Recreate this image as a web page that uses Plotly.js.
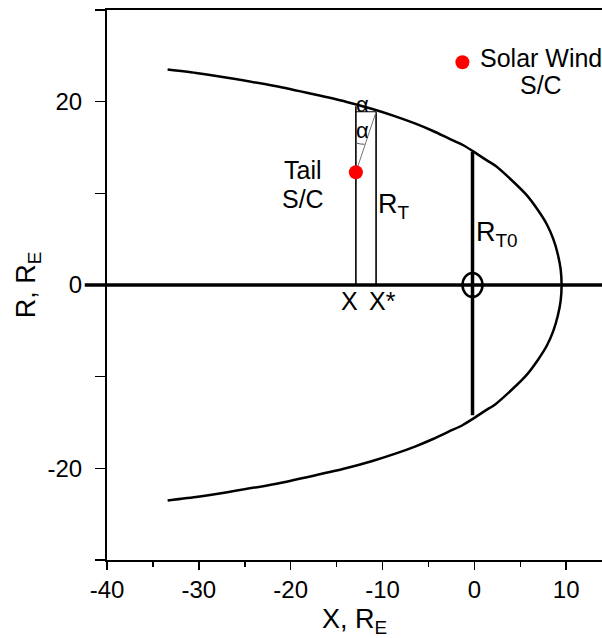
<!DOCTYPE html>
<html>
<head>
<meta charset="utf-8">
<script src="https://cdn.plot.ly/plotly-3.0.1.min.js"></script>
<style>
  html, body { margin: 0; padding: 0; background: #fff; }
  #plot { width: 602px; height: 638px; }
</style>
</head>
<body>
<div id="plot"></div>
<script>
// Magnetopause boundary in the X–R plane (R_E), traced from the tail flank
// (upper branch) round the nose and back along the lower branch.
const boundaryX = [-33.4, -30.1, -26.9, -21.7, -17.5, -14.0, -11.1, -8.6, -6.4, -4.5, -2.8, -1.3, 0.0,
                   1.2, 2.3, 4.1, 5.7, 6.9, 7.9, 8.6, 9.1, 9.4, 9.5,
                   9.4, 9.1, 8.6, 7.9, 6.9, 5.7, 4.1, 2.3, 1.2, 0.0,
                   -1.3, -2.8, -4.5, -6.4, -8.6, -11.1, -14.0, -17.5, -21.7, -26.9, -30.1, -33.4];
const boundaryR = [23.5, 23.1, 22.6, 21.7, 20.8, 20.0, 19.2, 18.4, 17.6, 16.8, 16.0, 15.3, 14.5,
                   13.7, 13.0, 11.4, 9.8, 8.2, 6.6, 5.0, 3.3, 1.7, 0.0,
                   -1.7, -3.3, -5.0, -6.6, -8.2, -9.8, -11.4, -13.0, -13.7, -14.5,
                   -15.3, -16.0, -16.8, -17.6, -18.4, -19.2, -20.0, -20.8, -21.7, -22.6, -23.1, -23.5];

// Spacecraft positions
const tailSC = { x: [-12.9], r: [12.3] };
const solarWindSC = { x: [-1.3], r: [24.3] };

// Construction lines: X (tail S/C), X* and the terminator radius R_T0
const lineX = { x: [-12.9, -12.9], r: [0, 19.5] };
const lineXstar = { x: [-10.7, -10.7], r: [0, 18.9] };
const capLine = { x: [-12.9, -10.7], r: [18.9, 18.9] };
const slantLine = { x: [-12.9, -10.7], r: [12.3, 18.9] };
const lineRT0 = { x: [-0.2, -0.2], r: [-14.2, 14.5] };

// Axis ticks
const xTickVals = [-40, -30, -20, -10, 0, 10];
const xTickText = ['-40', '-30', '-20', '-10', '0', '10'];
const yTickVals = [-20, 0, 20];
const yTickText = ['-20', '0', '20'];

const FONT = 'Liberation Sans, Arial, Helvetica, sans-serif';

const traces = [
  { x: boundaryX, y: boundaryR, mode: 'lines', line: { color: '#000', width: 2.5, shape: 'spline', smoothing: 0.6 }, hoverinfo: 'skip' },
  { x: lineX.x, y: lineX.r, mode: 'lines', line: { color: '#000', width: 1.6 }, hoverinfo: 'skip' },
  { x: lineXstar.x, y: lineXstar.r, mode: 'lines', line: { color: '#000', width: 1.6 }, hoverinfo: 'skip' },
  { x: capLine.x, y: capLine.r, mode: 'lines', line: { color: '#000', width: 1 }, hoverinfo: 'skip' },
  { x: slantLine.x, y: slantLine.r, mode: 'lines', line: { color: '#777', width: 1 }, hoverinfo: 'skip' },
  { x: lineRT0.x, y: lineRT0.r, mode: 'lines', line: { color: '#000', width: 3.5 }, hoverinfo: 'skip' },
  { x: tailSC.x, y: tailSC.r, mode: 'markers', marker: { color: '#ff0000', size: 14 }, hoverinfo: 'skip' },
  { x: solarWindSC.x, y: solarWindSC.r, mode: 'markers', marker: { color: '#ff0000', size: 14 }, hoverinfo: 'skip' }
];

const ann = (x, y, text, size, xanchor) => ({
  x, y, xref: 'x', yref: 'y', text, showarrow: false,
  xanchor: xanchor || 'center', yanchor: 'middle',
  font: { family: FONT, size: size || 24, color: '#000' }
});

const layout = {
  width: 602, height: 638,
  margin: { l: 107, r: 0, t: 10, b: 78 },
  paper_bgcolor: '#fff', plot_bgcolor: '#fff',
  showlegend: false,
  font: { family: FONT, size: 24, color: '#000' },
  xaxis: {
    range: [-40, 13.9], showgrid: false, zeroline: false,
    showline: true, linecolor: '#000', linewidth: 2, mirror: true,
    ticks: 'outside', ticklen: 8, tickwidth: 1.5, tickcolor: '#000',
    tickvals: xTickVals, ticktext: xTickText, ticklabelstandoff: -1,
    minor: { dtick: 5, tick0: 0, ticks: 'outside', ticklen: 5, tickwidth: 1.5, tickcolor: '#000', showgrid: false },
    tickfont: { family: FONT, size: 24 },
    title: { text: 'X, R<sub>E</sub>', font: { family: FONT, size: 27 }, standoff: 10 }
  },
  yaxis: {
    range: [-30, 30], showgrid: false, zeroline: false,
    showline: true, linecolor: '#000', linewidth: 2,
    ticks: 'outside', ticklen: 10, tickwidth: 1.5, tickcolor: '#000',
    tickvals: yTickVals, ticktext: yTickText, ticklabelstandoff: 8,
    minor: { dtick: 10, tick0: 0, ticks: 'outside', ticklen: 10, tickwidth: 1.5, tickcolor: '#000', showgrid: false },
    tickfont: { family: FONT, size: 24 },
    title: { text: 'R, R<sub>E</sub>', font: { family: FONT, size: 27 }, standoff: 4 }
  },
  shapes: [
    // Sun–Earth line, drawn across the left axis
    { type: 'line', xref: 'paper', yref: 'y', x0: -0.045, x1: 1, y0: 0, y1: 0, line: { color: '#000', width: 3.5 } },
    // Earth marker at the origin
    { type: 'circle', xref: 'x', yref: 'y', xsizemode: 'pixel', ysizemode: 'pixel', xanchor: -0.2, yanchor: 0,
      x0: -10, x1: 10, y0: -12, y1: 12, line: { color: '#000', width: 2.5 } },
    // angle mark between the X line and the slant line
    { type: 'path', xref: 'x', yref: 'y', path: 'M -12.9 15.5 Q -12.45 15.35 -11.95 15.35', line: { color: '#555', width: 1 } }
  ],
  annotations: [
    ann(7.3, 24.8, 'Solar Wind', 25),
    ann(7.3, 21.8, 'S/C', 25),
    ann(-18.7, 12.5, 'Tail', 25),
    ann(-18.7, 9.4, 'S/C', 25),
    ann(-10.7, 8.6, 'R<sub>T</sub>', 27, 'left'),
    ann(0.0, 5.6, 'R<sub>T0</sub>', 27, 'left'),
    ann(-13.6, -1.7, 'X', 25),
    ann(-11.7, -1.7, 'X*', 25, 'left'),
    ann(-12.2, 19.7, 'α', 22),
    ann(-12.2, 16.9, 'α', 22)
  ]
};

Plotly.newPlot('plot', traces, layout, { staticPlot: true });
</script>
</body>
</html>
